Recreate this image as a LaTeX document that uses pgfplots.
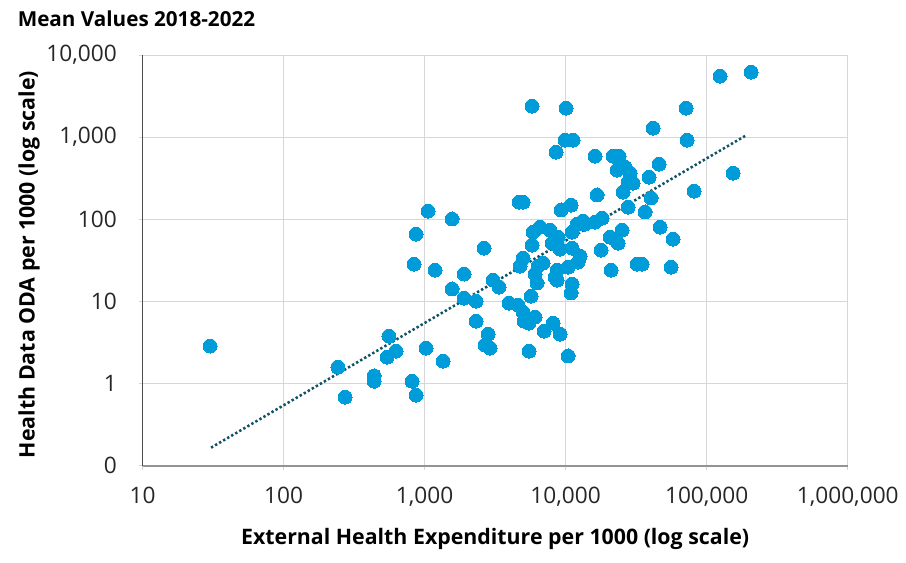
\documentclass[border=0pt]{standalone}
\usepackage{fontspec}
\setmainfont{Open Sans}
\usepackage{pgfplots}
\pgfplotsset{compat=1.18}

\definecolor{dotblue}{RGB}{0,156,218}
\definecolor{trend}{RGB}{16,82,102}
\definecolor{gridgray}{RGB}{214,214,214}

% mean values 2018-2022: external health expenditure vs health data ODA (per 1000)
\pgfplotstableread{
x y
30.1 2.87
243 1.59
273 0.686
438 1.24
438 1.07
559 3.79
627 2.49
542 2.10
814 1.07
869 0.726
1023 2.71
1351 1.88
841 28.5
869 66.2
1057 126
1565 101
1185 24.1
1903 21.6
1565 14.2
1903 11.0
2315 10.1
2315 5.77
2638 44.7
3056 18.2
3371 15.0
2817 4.01
2682 2.95
2910 2.71
3967 9.57
4596 9.04
4987 7.43
6066 6.46
5069 5.77
5500 5.46
8140 5.46
7026 4.36
9125 4.01
5682 11.6
5500 2.49
10400 2.17
11100 16.3
10920 12.7
6268 16.8
8689 18.2
4672 162
4987 162
9274 130
10920 149
5871 70.0
6582 80.5
7751 74.0
8831 60.8
5775 48.6
8008 51.4
9125 43.5
12040 87.6
13280 95.3
11100 70.0
11100 44.7
12650 35.7
12240 30.2
4987 33.8
4748 27.0
6371 27.0
6912 29.4
8689 24.1
10400 26.2
8410 19.8
6066 21.6
5775 2393
10060 2262
9900 923
11280 923
8548 659
16150 589
21670 589
23900 589
23130 398
26370 433
28610 366
27690 284
30040 276
25520 215
16690 198
27690 141
36540 123
39020 327
45930 471
40310 182
41650 1292
72570 923
71390 2262
81340 221
153800 366
124300 5549
206300 6208
13720 87.6
16150 92.6
18110 103.6
20640 60.8
25100 74.0
23520 51.4
17820 42.3
20980 24.1
32080 28.5
34800 28.5
55870 26.2
46690 80.5
57700 57.5
}\meandata

\begin{document}
\begin{tikzpicture}
\path[use as bounding box] (-106.9pt,-72.2pt) rectangle (572.6pt,349.3pt);
\begin{axis}[
  at={(0,0)}, anchor=south west,
  scale only axis,
  width=528.9pt, height=308pt,
  xmode=log, ymode=log,
  xmin=10, xmax=1000000,
  ymin=0.1, ymax=10000,
  xtick={10,100,1000,10000,100000,1000000},
  xticklabels={10,100,{1,000},{10,000},{100,000},{1,000,000}},
  ytick={0.1,1,10,100,1000,10000},
  yticklabels={0,1,10,100,{1,000},{10,000}},
  xminorticks=false, yminorticks=false,
  grid=major,
  major grid style={gridgray, line width=0.75pt},
  axis x line*=bottom, axis y line*=left,
  x axis line style={draw=gray!85, line width=1.5pt},
  y axis line style={draw=black!70, line width=0.9pt},
  tick align=outside,
  major tick length=3pt,
  tick style={gridgray, line width=0.75pt},
  tick label style={font=\fontsize{17}{20}\selectfont, text=black!85},
  xticklabel style={yshift=-9.3pt},
  yticklabel style={xshift=-12.8pt},
  title={Mean Values 2018-2022},
  title style={at={(axis description cs:-0.1836,1.051)}, anchor=base west,
    font=\bfseries\fontsize{15.5}{18}\selectfont},
  xlabel={External Health Expenditure per 1000 (log scale)},
  xlabel style={at={(axis description cs:0.5,-0.1906)}, anchor=base,
    font=\bfseries\fontsize{16}{19}\selectfont},
  ylabel={Health Data ODA per 1000 (log scale)},
  ylabel style={at={(axis description cs:-0.1531,0.49)}, anchor=base,
    font=\bfseries\fontsize{16}{19}\selectfont},
  clip=false,
]
\addplot[only marks, mark=*, mark size=5.25pt,
  mark options={draw=dotblue, fill=dotblue, line width=0pt}]
  table[x=x, y=y] {\meandata};
\addplot[trend, line width=1.9pt, dash pattern=on 1.8pt off 1.7pt]
  coordinates {(30.6,0.166) (192000,1062)};
\end{axis}
\end{tikzpicture}
\end{document}
